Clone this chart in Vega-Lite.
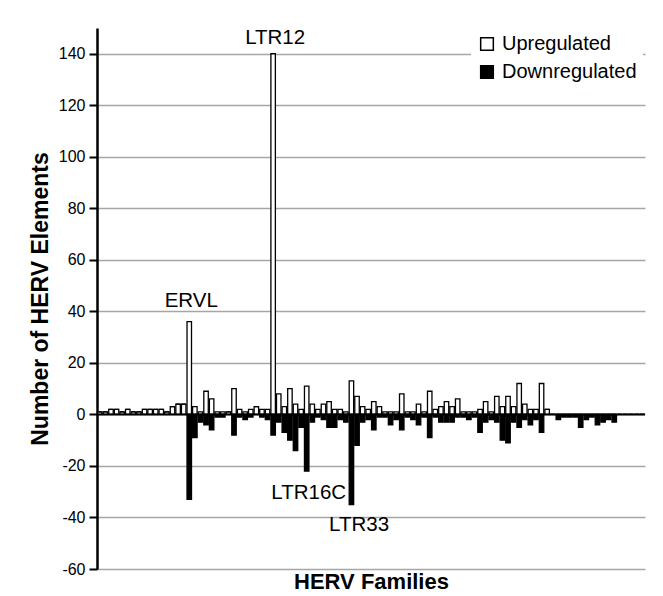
{
  "$schema": "https://vega.github.io/schema/vega-lite/v6.json",
  "width": 548,
  "height": 541,
  "autosize": {"type": "none"},
  "padding": {"left": 97, "top": 28, "right": 18, "bottom": 27},
  "background": "white",
  "config": {"view": {"stroke": null}, "font": "Liberation Sans"},
  "layer": [
    {
      "data": {"values": [
        {"f":0,"Upregulated":1,"Downregulated":0},{"f":1,"Upregulated":1,"Downregulated":0},{"f":2,"Upregulated":2,"Downregulated":0},{"f":3,"Upregulated":2,"Downregulated":0},{"f":4,"Upregulated":1,"Downregulated":0},{"f":5,"Upregulated":2,"Downregulated":0},{"f":6,"Upregulated":1,"Downregulated":0},{"f":7,"Upregulated":1,"Downregulated":0},{"f":8,"Upregulated":2,"Downregulated":0},{"f":9,"Upregulated":2,"Downregulated":0},
        {"f":10,"Upregulated":2,"Downregulated":0},{"f":11,"Upregulated":2,"Downregulated":0},{"f":12,"Upregulated":1,"Downregulated":0},{"f":13,"Upregulated":3,"Downregulated":0},{"f":14,"Upregulated":4,"Downregulated":0},{"f":15,"Upregulated":4,"Downregulated":0},{"f":16,"Upregulated":36,"Downregulated":-33},{"f":17,"Upregulated":3,"Downregulated":-9},{"f":18,"Upregulated":1,"Downregulated":-3},{"f":19,"Upregulated":9,"Downregulated":-4},
        {"f":20,"Upregulated":6,"Downregulated":-6},{"f":21,"Upregulated":1,"Downregulated":-1},{"f":22,"Upregulated":1,"Downregulated":-1},{"f":23,"Upregulated":1,"Downregulated":0},{"f":24,"Upregulated":10,"Downregulated":-8},{"f":25,"Upregulated":2,"Downregulated":-1},{"f":26,"Upregulated":1,"Downregulated":-2},{"f":27,"Upregulated":2,"Downregulated":-1},{"f":28,"Upregulated":3,"Downregulated":0},{"f":29,"Upregulated":2,"Downregulated":-1},
        {"f":30,"Upregulated":2,"Downregulated":-2},{"f":31,"Upregulated":140,"Downregulated":-8},{"f":32,"Upregulated":8,"Downregulated":-3},{"f":33,"Upregulated":3,"Downregulated":-7},{"f":34,"Upregulated":10,"Downregulated":-10},{"f":35,"Upregulated":4,"Downregulated":-14},{"f":36,"Upregulated":2,"Downregulated":-5},{"f":37,"Upregulated":11,"Downregulated":-22},{"f":38,"Upregulated":4,"Downregulated":-3},{"f":39,"Upregulated":2,"Downregulated":-1},
        {"f":40,"Upregulated":4,"Downregulated":-2},{"f":41,"Upregulated":5,"Downregulated":-5},{"f":42,"Upregulated":2,"Downregulated":-5},{"f":43,"Upregulated":2,"Downregulated":-2},{"f":44,"Upregulated":1,"Downregulated":-3},{"f":45,"Upregulated":13,"Downregulated":-35},{"f":46,"Upregulated":7,"Downregulated":-12},{"f":47,"Upregulated":3,"Downregulated":-3},{"f":48,"Upregulated":2,"Downregulated":-2},{"f":49,"Upregulated":5,"Downregulated":-6},
        {"f":50,"Upregulated":3,"Downregulated":-1},{"f":51,"Upregulated":1,"Downregulated":-1},{"f":52,"Upregulated":1,"Downregulated":-4},{"f":53,"Upregulated":1,"Downregulated":-2},{"f":54,"Upregulated":8,"Downregulated":-6},{"f":55,"Upregulated":1,"Downregulated":-1},{"f":56,"Upregulated":1,"Downregulated":-2},{"f":57,"Upregulated":4,"Downregulated":-4},{"f":58,"Upregulated":1,"Downregulated":-1},{"f":59,"Upregulated":9,"Downregulated":-9},
        {"f":60,"Upregulated":2,"Downregulated":-1},{"f":61,"Upregulated":3,"Downregulated":-3},{"f":62,"Upregulated":5,"Downregulated":-3},{"f":63,"Upregulated":3,"Downregulated":-3},{"f":64,"Upregulated":6,"Downregulated":-1},{"f":65,"Upregulated":1,"Downregulated":-1},{"f":66,"Upregulated":1,"Downregulated":-2},{"f":67,"Upregulated":1,"Downregulated":-1},{"f":68,"Upregulated":2,"Downregulated":-7},{"f":69,"Upregulated":5,"Downregulated":-3},
        {"f":70,"Upregulated":1,"Downregulated":-2},{"f":71,"Upregulated":7,"Downregulated":-3},{"f":72,"Upregulated":3,"Downregulated":-10},{"f":73,"Upregulated":7,"Downregulated":-11},{"f":74,"Upregulated":3,"Downregulated":-3},{"f":75,"Upregulated":12,"Downregulated":-5},{"f":76,"Upregulated":4,"Downregulated":-2},{"f":77,"Upregulated":2,"Downregulated":-4},{"f":78,"Upregulated":2,"Downregulated":-2},{"f":79,"Upregulated":12,"Downregulated":-7},
        {"f":80,"Upregulated":2,"Downregulated":0},{"f":81,"Upregulated":0,"Downregulated":0},{"f":82,"Upregulated":0,"Downregulated":-2},{"f":83,"Upregulated":0,"Downregulated":-1},{"f":84,"Upregulated":0,"Downregulated":-1},{"f":85,"Upregulated":0,"Downregulated":-1},{"f":86,"Upregulated":0,"Downregulated":-5},{"f":87,"Upregulated":0,"Downregulated":-2},{"f":88,"Upregulated":0,"Downregulated":-1},{"f":89,"Upregulated":0,"Downregulated":-4},
        {"f":90,"Upregulated":0,"Downregulated":-3},{"f":91,"Upregulated":0,"Downregulated":-2},{"f":92,"Upregulated":0,"Downregulated":-3},{"f":93,"Upregulated":0,"Downregulated":0},{"f":94,"Upregulated":0,"Downregulated":0},{"f":95,"Upregulated":0,"Downregulated":0},{"f":96,"Upregulated":0,"Downregulated":0},{"f":97,"Upregulated":0,"Downregulated":0}
      ]},
      "transform": [{"fold": ["Upregulated", "Downregulated"], "as": ["series", "n"]}],
      "mark": {"type": "bar", "stroke": "black", "strokeWidth": 1.3},
      "encoding": {
        "x": {
          "field": "f", "type": "ordinal",
          "scale": {"paddingInner": 0.2, "paddingOuter": 0.1},
          "axis": {"title": "HERV Families", "labels": false, "ticks": false, "domain": false, "grid": false,
                   "titleFontSize": 22, "titleFontWeight": "bold", "titleColor": "black", "titlePadding": 2, "titleFont": "Liberation Sans"}
        },
        "y": {
          "field": "n", "type": "quantitative",
          "scale": {"domain": [-60, 150], "nice": false},
          "axis": {
            "title": "Number of HERV Elements",
            "values": [-60, -40, -20, 0, 20, 40, 60, 80, 100, 120, 140],
            "labelExpr": "toString(datum.value)",
            "titleFontSize": 23, "titleFontWeight": "bold", "titleColor": "black", "titlePadding": 6, "titleFont": "Liberation Sans",
            "labelFontSize": 16, "labelColor": "black", "labelPadding": 4, "labelFont": "Liberation Sans",
            "tickSize": 8, "tickColor": "black", "tickWidth": 2,
            "domainColor": "black", "domainWidth": 2.5,
            "grid": true, "gridColor": "#a6a6a6", "gridWidth": 1.5
          }
        },
        "color": {
          "field": "series", "type": "nominal",
          "scale": {"domain": ["Upregulated", "Downregulated"], "range": ["white", "black"]},
          "legend": {
            "title": null, "orient": "none", "legendX": 374, "legendY": 0,
            "fillColor": "white", "padding": 6,
            "symbolType": "square", "symbolSize": 160, "symbolStrokeColor": "black", "symbolStrokeWidth": 1.5,
            "labelFontSize": 20, "labelColor": "black", "labelFont": "Liberation Sans", "labelOffset": 5, "rowPadding": 8
          }
        }
      }
    },
    {
      "data": {"values": [{"z": 0}]},
      "mark": {"type": "rule", "color": "black", "strokeWidth": 2},
      "encoding": {"y": {"field": "z", "type": "quantitative"}}
    },
    {
      "data": {"values": [
        {"f": 16, "y": 44, "label": "ERVL"},
        {"f": 31, "y": 146, "label": "LTR12"},
        {"f": 37, "y": -30.5, "label": "LTR16C"},
        {"f": 46, "y": -43, "label": "LTR33"}
      ]},
      "mark": {"type": "text", "fontSize": 20.5, "color": "black", "font": "Liberation Sans", "dx": 2},
      "encoding": {
        "x": {"field": "f", "type": "ordinal"},
        "y": {"field": "y", "type": "quantitative"},
        "text": {"field": "label", "type": "nominal"}
      }
    }
  ]
}
